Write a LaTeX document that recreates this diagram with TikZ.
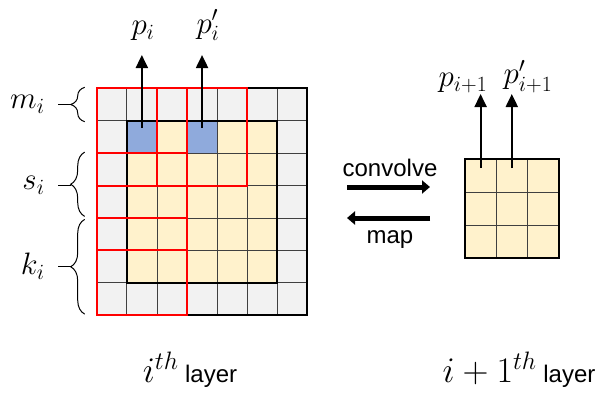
\RequirePackage{fix-cm}
\documentclass[tikz,border=0pt]{standalone}
\usepackage{fontspec}
\newfontfamily\labelfont{Liberation Sans}
\usetikzlibrary{arrows.meta,decorations.pathreplacing,calc}
\definecolor{cellgray}{HTML}{F2F2F2}
\definecolor{cellyellow}{HTML}{FFF2CC}
\definecolor{cellblue}{HTML}{8FAADC}
\newcommand{\mathsize}{\fontsize{31}{34}\selectfont}
\newcommand{\bigmathsize}{\fontsize{36}{38}\selectfont}
\newcommand{\textsize}{\labelfont\fontsize{24}{28}\selectfont}
\begin{document}
\begin{tikzpicture}[x=1pt, y=-1pt,
    cell/.style={draw=black!75, line width=.8pt, inner sep=0pt, outer sep=0pt,
      minimum width=30.1pt, minimum height=32.4pt},
    smallcell/.style={cell, minimum width=31.2pt, minimum height=33.1pt},
    border/.style={line width=2pt},
    window/.style={draw=red, line width=2pt},
    up/.style={-{Triangle[width=12pt,length=13pt]}, line width=2pt},
    flow/.style={-{Triangle[width=13pt,length=8pt]}, line width=5pt},
    sizebrace/.style={decorate, decoration={brace, amplitude=14pt}, line width=1pt},
    mathlabel/.style={inner sep=0pt, font=\mathsize},
    txt/.style={inner sep=0pt, font=\textsize}]
  \useasboundingbox (0,0) rectangle (605,394);
  \foreach \c in {0,...,6}
    \foreach \r in {0,...,6} {
      \def\cellfill{cellgray}
      \ifnum\c>0 \ifnum\c<6 \ifnum\r>0 \ifnum\r<6 \def\cellfill{cellyellow}\fi\fi\fi\fi
      \ifnum\r=1 \ifodd\c \ifnum\c<4 \def\cellfill{cellblue}\fi\fi\fi
      \node[cell, fill=\cellfill] (L-\c-\r) at ({96.7+30.1*(\c+.5)}, {88.3+32.4*(\r+.5)}) {};
    }
  \foreach \c in {0,1,2}
    \foreach \r in {0,1,2}
      \node[smallcell, fill=cellyellow] (R-\c-\r) at ({465+31.2*(\c+.5)}, {159+33.1*(\r+.5)}) {};
  \draw[border] (L-0-0.north west) rectangle (L-6-6.south east);
  \draw[border] (L-1-1.north west) rectangle (L-5-5.south east);
  \draw[border] (R-0-0.north west) rectangle (R-2-2.south east);
  \draw[window] (L-0-0.north west) rectangle (L-2-2.south east);
  \draw[window] (L-2-0.north west) rectangle (L-4-2.south east);
  \draw[window] (L-0-2.north west) rectangle (L-2-4.south east);
  \draw[window] (L-0-4.north west) rectangle (L-2-6.south east);

  \node[mathlabel, anchor=south] (p) at (143,41) {$p_i$};
  \node[mathlabel, anchor=south] (pp) at (208,41) {$p_i'$};
  \node[mathlabel, anchor=south] (q) at (463,93) {$p_{i+1}$};
  \node[mathlabel, anchor=south] (qq) at (528,93) {$p_{i+1}'$};
  \draw[up] ([yshift=9pt]L-1-1.center) -- (L-1-1 |- 0,55);
  \draw[up] ([yshift=9pt]L-3-1.center) -- (L-3-1 |- 0,55);
  \coordinate (q-tip) at ([yshift=-1pt]q.south);
  \draw[up] ([yshift=7.5pt]R-0-0.center) -- (R-0-0 |- q-tip);
  \draw[up] ([yshift=7.5pt]R-1-0.center) -- (R-1-0 |- q-tip);

  \node[txt] (conv) at (390,168) {convolve};
  \node[txt] (map) at (390,240) {map};
  \coordinate (cv-a) at (347,187);
  \coordinate (cv-b) at (430,187);
  \coordinate (mp-a) at (430,218);
  \coordinate (mp-b) at (347,218);
  \draw[flow] (cv-a) -- (cv-b);
  \draw[flow] (mp-a) -- (mp-b);

  \draw[sizebrace] ([shift={(-12pt,-1pt)}]L-0-0.south west) -- ([shift={(-12pt,1pt)}]L-0-0.north west);
  \draw[sizebrace] ([shift={(-12pt,1.5pt)}]L-0-3.south west) -- ([shift={(-12pt,1pt)}]L-0-2.north west);
  \draw[sizebrace] ([shift={(-12pt,1pt)}]L-0-6.south west) -- ([shift={(-12pt,-1.5pt)}]L-0-4.north west);
  \coordinate (m-tip) at ($(L-0-0.west)+(-26,0)$);
  \coordinate (s-tip) at ($(L-0-2.south west)+(-26,0)$);
  \coordinate (k-tip) at ($(L-0-5.west)+(-26,0)$);
  \node[mathlabel, anchor=east] (m) at ($(m-tip)+(-26,0)$) {$m_i$};
  \node[mathlabel, anchor=east] (s) at ($(s-tip)+(-26,0)$) {$s_i$};
  \node[mathlabel, anchor=east] (k) at ($(k-tip)+(-26,0)$) {$k_i$};
  \draw[line width=1pt] (m-tip) -- (m-tip -| 58,0);
  \draw[line width=1pt] (s-tip) -- (s-tip -| 58,0);
  \draw[line width=1pt] (k-tip) -- (k-tip -| 58,0);

  \node[txt] (lay1) at (190,370) {{\bigmathsize$i^{th}$} layer};
  \node[txt] (lay2) at (519,370) {{\bigmathsize$i+1^{th}$} layer};
\end{tikzpicture}
\end{document}
